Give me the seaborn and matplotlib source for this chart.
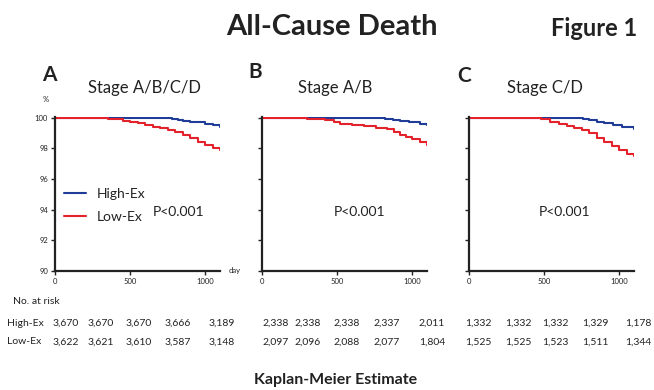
import matplotlib
matplotlib.use("Agg")
import matplotlib.pyplot as plt
import seaborn as sns
import pandas as pd

# survival curves (day, % event-free)
a_high_days = [0, 780, 820, 850, 900, 950, 1000, 1050, 1100]
a_high_surv = [100, 99.95, 99.85, 99.8, 99.75, 99.7, 99.62, 99.5, 99.42]
a_low_days = [0, 250, 350, 400, 450, 500, 550, 600, 650, 700, 750, 800, 850, 900, 950, 1000, 1050, 1100]
a_low_surv = [100, 99.98, 99.95, 99.9, 99.82, 99.75, 99.65, 99.55, 99.42, 99.3, 99.18, 99.05, 98.9, 98.7,
              98.45, 98.25, 98.05, 97.88]

b_high_days = [0, 820, 870, 920, 980, 1050, 1100]
b_high_surv = [100, 99.95, 99.85, 99.78, 99.7, 99.6, 99.55]
b_low_days = [0, 100, 300, 420, 480, 520, 600, 680, 760, 830, 880, 920, 960, 1000, 1050, 1100]
b_low_surv = [100, 99.97, 99.93, 99.85, 99.72, 99.62, 99.55, 99.45, 99.35, 99.25, 99.1, 98.9, 98.75,
              98.6, 98.45, 98.22]

c_high_days = [0, 760, 800, 850, 900, 960, 1020, 1100]
c_high_surv = [100, 99.95, 99.85, 99.75, 99.65, 99.5, 99.4, 99.25]
c_low_days = [0, 320, 480, 540, 600, 650, 700, 750, 800, 850, 900, 950, 1000, 1050, 1100]
c_low_surv = [100, 99.97, 99.9, 99.75, 99.6, 99.45, 99.35, 99.2, 99.0, 98.7, 98.4, 98.15, 97.9,
              97.65, 97.48]

panel_letters = ["A", "B", "C"]
panel_titles = ["Stage A/B/C/D", "Stage A/B", "Stage C/D"]
groups = ["High-Ex", "Low-Ex"]

# number at risk
risk_high = [["3,670", "3,670", "3,670", "3,666", "3,189"],
             ["2,338", "2,338", "2,338", "2,337", "2,011"],
             ["1,332", "1,332", "1,332", "1,329", "1,178"]]
risk_low = [["3,622", "3,621", "3,610", "3,587", "3,148"],
            ["2,097", "2,096", "2,088", "2,077", "1,804"],
            ["1,525", "1,525", "1,523", "1,511", "1,344"]]

curves = [
    (a_high_days, a_high_surv, a_low_days, a_low_surv),
    (b_high_days, b_high_surv, b_low_days, b_low_surv),
    (c_high_days, c_high_surv, c_low_days, c_low_surv),
]

sns.set_style("white")
plt.rcParams["font.family"] = ["Lato", "DejaVu Sans"]

W, H = 654, 390
fig = plt.figure(figsize=(W / 100, H / 100), dpi=100)
ink = "#222222"

colors = {"High-Ex": "#1f3c98", "Low-Ex": "#e3222b"}
lefts = [55, 262, 469]
ax_w = 165
ax_bottom, ax_top = 271, 117

# figure-pixel positions of text
letter_pos = [(42, 75), (248, 72), (457, 76)]
title_x = [144, 335, 545]
p_pos = [(179, 212), (360, 212), (565, 212)]

for i, (hd, hs, ld, ls) in enumerate(curves):
    ax = fig.add_axes([lefts[i] / W, 1 - ax_bottom / H, ax_w / W, (ax_bottom - ax_top) / H])
    df = pd.concat([
        pd.DataFrame({"day": hd, "surv": hs, "group": "High-Ex"}),
        pd.DataFrame({"day": ld, "surv": ls, "group": "Low-Ex"}),
    ])
    sns.lineplot(data=df, x="day", y="surv", hue="group", palette=colors, estimator=None,
                 drawstyle="steps-post", linewidth=1.5, ax=ax, legend=(i == 0))
    ax.set_xlim(0, 1100)
    ax.set_ylim(90, 100.05)
    ax.set_xticks([0, 500, 1000])
    ax.set_yticks([90, 92, 94, 96, 98, 100])
    ax.set_xlabel("")
    ax.set_ylabel("")
    for s in ["top", "right"]:
        ax.spines[s].set_visible(False)
    for s in ["left", "bottom"]:
        ax.spines[s].set_color(ink)
        ax.spines[s].set_linewidth(1.6)
    ax.tick_params(axis="both", direction="out", length=3, width=1, labelsize=5.5, colors=ink,
                   pad=2, bottom=True, left=True)
    if i > 0:
        ax.set_yticklabels([])
    if i == 0:
        leg = ax.legend(frameon=False, fontsize=10, handlelength=1.6, loc="center left",
                        bbox_to_anchor=(0.02, 0.425), labelspacing=0.8, handletextpad=0.8,
                        borderaxespad=0)
        for t in leg.get_texts():
            t.set_color(ink)

    fig.text(p_pos[i][0] / W, 1 - p_pos[i][1] / H, "P<0.001", fontsize=10,
             ha="center", va="center", color=ink)
    fig.text(letter_pos[i][0] / W, 1 - letter_pos[i][1] / H, panel_letters[i], fontsize=15,
             fontweight="bold", ha="left", va="center", color=ink)
    fig.text(title_x[i] / W, 1 - 88 / H, panel_titles[i], fontsize=12,
             ha="center", va="center", color=ink)

fig.text(46 / W, 1 - 99 / H, "%", fontsize=5.5, ha="center", va="center", color=ink)
fig.text(235 / W, 1 - 270 / H, "day", fontsize=5.5, ha="center", va="center", color=ink)

fig.text(332 / W, 1 - 27 / H, "All-Cause Death", fontsize=21, fontweight="bold",
         ha="center", va="center", color=ink)
fig.text(594 / W, 1 - 28 / H, "Figure 1", fontsize=17, fontweight="bold",
         ha="center", va="center", color=ink)

# number at risk table
fig.text(13 / W, 1 - 302 / H, "No. at risk", fontsize=7.5, ha="left", va="center", color=ink)
col_x = [[66, 101, 139, 178, 222], [276, 308, 347, 387, 432], [478, 518, 555, 595, 638]]
for row_y, name, vals in [(323, "High-Ex", risk_high), (342, "Low-Ex", risk_low)]:
    fig.text(7 / W, 1 - row_y / H, name, fontsize=7.5, ha="left", va="center", color=ink)
    for p in range(3):
        for k in range(5):
            fig.text(col_x[p][k] / W, 1 - row_y / H, vals[p][k], fontsize=7.5,
                     ha="center", va="center", color=ink)

fig.text(336 / W, 1 - 380 / H, "Kaplan-Meier Estimate", fontsize=11.5, fontweight="bold",
         ha="center", va="center", color=ink)

fig.savefig("out.png", dpi=100)
